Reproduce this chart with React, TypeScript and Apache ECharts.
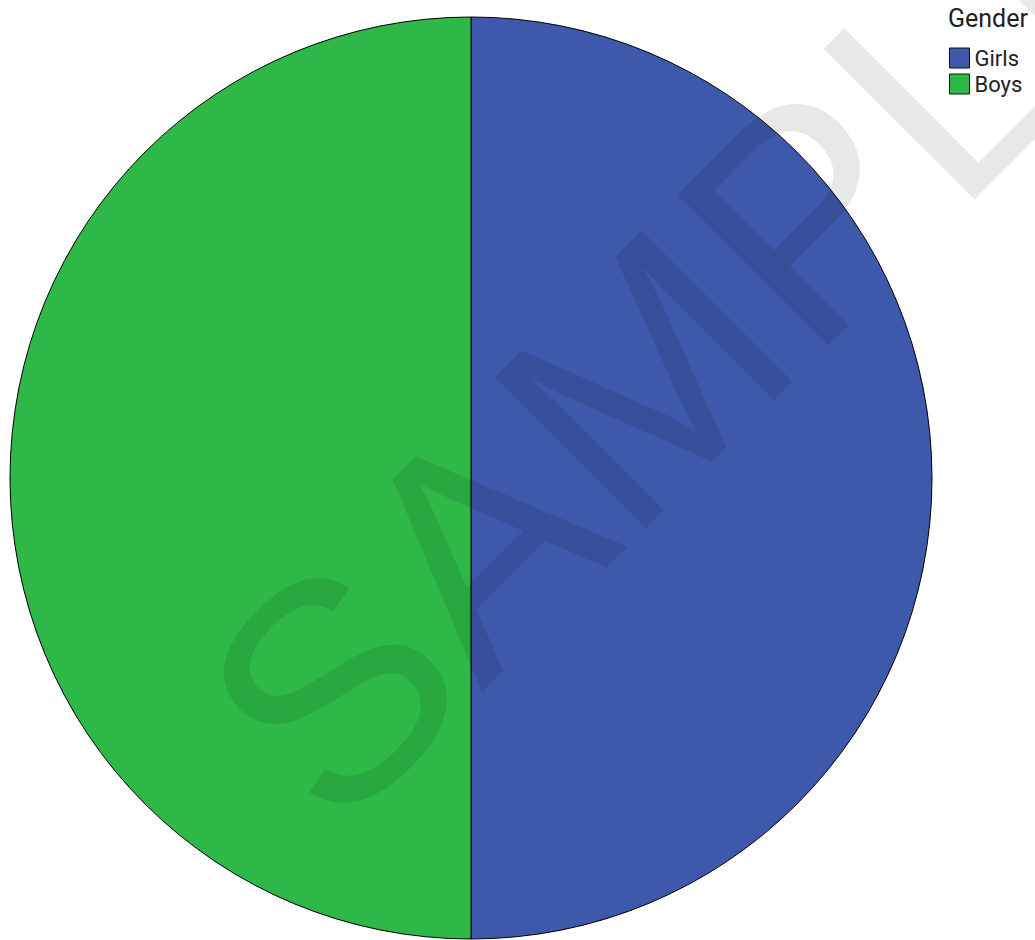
import React, { useEffect, useRef } from "react";
import * as echarts from "echarts";

const categories = ["Girls", "Boys"];
const values = [50, 50];
const colors = ["#3E58AC", "#2EB848"];
const legendTitle = "Gender";
const watermark = "SAMPLE";

export default function App() {
  const ref = useRef<HTMLDivElement>(null);
  useEffect(() => {
    if (!ref.current) return;
    const chart = echarts.init(ref.current, null, { renderer: "svg" });
    chart.setOption({
      animation: false,
      backgroundColor: "#ffffff",
      title: {
        text: legendTitle,
        left: 948,
        top: 6,
        padding: 0,
        textStyle: { fontFamily: "Roboto", fontSize: 25, fontWeight: "normal", color: "#222222" },
      },
      legend: {
        orient: "vertical",
        left: 949,
        top: 47,
        padding: 0,
        itemWidth: 20,
        itemHeight: 20,
        itemGap: 4,
        icon: "rect",
        selectedMode: false,
        data: categories,
        itemStyle: { borderColor: "#111111", borderWidth: 1 },
        textStyle: { fontFamily: "Roboto", fontSize: 22, color: "#222222", lineHeight: 20 },
      },
      graphic: [
        {
          type: "text",
          z: 100,
          x: 704,
          y: 318,
          rotation: Math.PI / 4,
          silent: true,
          style: {
            text: watermark,
            fill: "rgba(0,0,0,0.09)",
            font: "310px 'Liberation Sans', Arial, sans-serif",
            textAlign: "center",
            textVerticalAlign: "middle",
          },
        },
      ],
      series: [
        {
          type: "pie",
          center: [471, 478],
          radius: 461,
          startAngle: 90,
          clockwise: true,
          label: { show: false },
          labelLine: { show: false },
          emphasis: { disabled: true },
          itemStyle: { borderColor: "#000000", borderWidth: 1 },
          data: categories.map((c, i) => ({ name: c, value: values[i], itemStyle: { color: colors[i] } })),
        },
      ],
    });
    return () => chart.dispose();
  }, []);
  return <div ref={ref} style={{ position: "absolute", left: 0, top: 0, width: 1035, height: 940 }} />;
}
